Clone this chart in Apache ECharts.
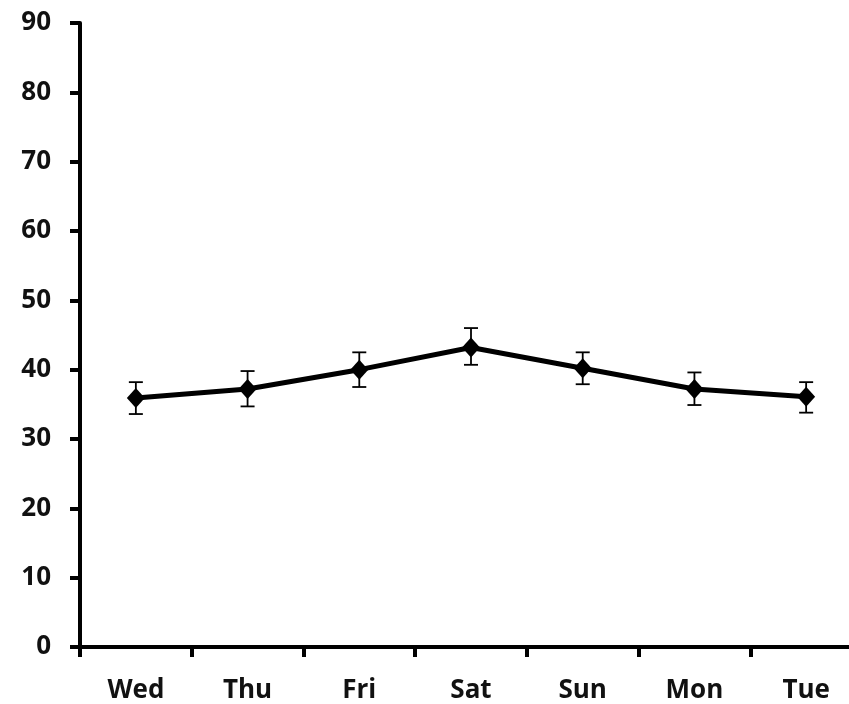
<!DOCTYPE html>
<html><head><meta charset="utf-8">
<script src="https://cdn.jsdelivr.net/npm/echarts@6/dist/echarts.min.js"></script>
<style>html,body{margin:0;padding:0;background:#fff;overflow:hidden}#c{width:862px;height:704px}</style>
</head><body><div id="c"></div>
<script>
const categories = ['Wed','Thu','Fri','Sat','Sun','Mon','Tue'];
const means = [35.9, 37.2, 40.0, 43.2, 40.2, 37.2, 36.1];
const errUp = [38.2, 39.8, 42.5, 46.0, 42.5, 39.6, 38.2];
const errDown = [33.6, 34.7, 37.5, 40.7, 37.9, 34.9, 33.8];
const yTicks = [0,10,20,30,40,50,60,70,80,90];

const chart = echarts.init(document.getElementById('c'));
const font = '"Open Sans", "Liberation Sans", sans-serif';
chart.setOption({
  animation: false,
  grid: { left: 80, right: 0, top: 23, bottom: 57, containLabel: false },
  xAxis: {
    type: 'category', data: categories, boundaryGap: true,
    axisLine: { lineStyle: { color: '#000', width: 4 } },
    axisTick: { show: true, length: 10, lineStyle: { color: '#000', width: 4 } },
    axisLabel: { color: '#111', fontFamily: font, fontWeight: 'bold', fontSize: 26, margin: 31 },
    splitLine: { show: false }
  },
  yAxis: {
    type: 'value', min: yTicks[0], max: yTicks[yTicks.length-1], interval: 10,
    axisLine: { show: true, lineStyle: { color: '#000', width: 4 } },
    axisTick: { show: true, length: 10, lineStyle: { color: '#000', width: 4 } },
    axisLabel: { color: '#111', fontFamily: font, fontWeight: 'bold', fontSize: 26, margin: 29 },
    splitLine: { show: false }
  },
  series: [
    {
      type: 'custom',
      data: categories.map((c, i) => [i, errDown[i], errUp[i]]),
      renderItem: function (params, api) {
        const lo = api.coord([api.value(0), api.value(1)]);
        const hi = api.coord([api.value(0), api.value(2)]);
        const hw = 7;
        const st = { stroke: '#000', lineWidth: 1.8 };
        return { type: 'group', children: [
          { type: 'line', shape: { x1: lo[0], y1: lo[1], x2: hi[0], y2: hi[1] }, style: st },
          { type: 'line', shape: { x1: lo[0]-hw, y1: lo[1], x2: lo[0]+hw, y2: lo[1] }, style: st },
          { type: 'line', shape: { x1: hi[0]-hw, y1: hi[1], x2: hi[0]+hw, y2: hi[1] }, style: st }
        ]};
      },
      z: 1
    },
    {
      type: 'line', data: means,
      lineStyle: { color: '#000', width: 5 },
      itemStyle: { color: '#000' },
      symbol: 'diamond', symbolSize: [18, 20],
      z: 2
    }
  ]
});
</script></body></html>
